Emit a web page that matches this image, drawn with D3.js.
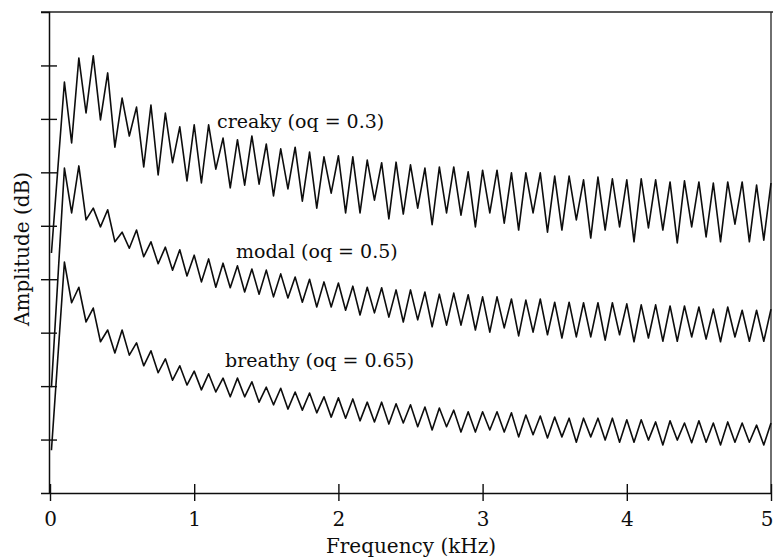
<!DOCTYPE html>
<html><head><meta charset="utf-8">
<script src="https://cdn.jsdelivr.net/npm/d3@7"></script>
<style>html,body{margin:0;padding:0;background:#fff;} svg{display:block;}</style>
</head><body><div id="chart"></div>
<script>
// Harmonic frequencies (kHz) – peaks, and the troughs midway between them
const harmonicKHz = [0.1,0.2,0.3,0.4,0.5,0.6,0.7,0.8,0.9,1.0,1.1,1.2,1.3,1.4,1.5,1.6,1.7,1.8,1.9,2.0,
  2.1,2.2,2.3,2.4,2.5,2.6,2.7,2.8,2.9,3.0,3.1,3.2,3.3,3.4,3.5,3.6,3.7,3.8,3.9,4.0,
  4.1,4.2,4.3,4.4,4.5,4.6,4.7,4.8,4.9,5.0];
const troughKHz = [0.15,0.25,0.35,0.45,0.55,0.65,0.75,0.85,0.95,1.05,1.15,1.25,1.35,1.45,1.55,1.65,1.75,1.85,1.95,2.05,
  2.15,2.25,2.35,2.45,2.55,2.65,2.75,2.85,2.95,3.05,3.15,3.25,3.35,3.45,3.55,3.65,3.75,3.85,3.95,4.05,
  4.15,4.25,4.35,4.45,4.55,4.65,4.75,4.85,4.95];
const startKHz = 0.01;

// Amplitudes (dB)
const creakyStart = 44.9;
const creakyPeaks = [76.9,81.4,81.8,78.6,73.9,72.2,72.6,71.1,68.5,68.9,68.9,66.4,66.1,66.8,65.3,64.4,64.7,63.8,62.9,63.1,
  62.9,62.3,61.8,61.9,61.4,60.8,61.0,61.0,60.1,60.4,60.4,59.9,59.9,59.9,59.3,59.3,58.6,59.1,58.8,58.6,
  58.8,58.6,58.2,58.4,58.2,58.0,58.2,58.2,57.6,58.0];
const creakyTroughs = [65.5,71.1,69.8,64.7,66.8,61.0,59.5,61.8,58.4,58.0,60.6,57.1,57.6,57.8,55.6,56.9,54.6,53.3,56.1,52.4,
  52.4,54.8,51.3,52.2,53.3,50.2,52.4,52.0,49.8,52.4,50.5,49.2,52.4,48.8,49.2,51.1,47.7,49.2,49.8,47.0,
  49.6,49.2,46.8,49.8,47.9,47.0,50.3,47.0,47.3];

const modalStart = 19.8;
const modalPeaks = [60.8,61.2,53.3,53.0,48.8,49.2,47.0,46.0,45.5,44.5,43.8,43.0,42.5,41.9,41.7,41.0,40.4,40.0,39.5,39.3,
  38.7,38.5,38.4,38.0,38.0,37.6,37.2,37.4,37.1,36.7,36.7,36.3,36.1,36.3,35.7,35.7,35.6,35.6,35.6,35.4,
  35.2,35.2,35.0,35.0,34.8,34.4,34.8,34.2,34.2,34.4];
const modalTroughs = [52.4,51.1,49.8,47.0,45.8,44.2,42.9,41.7,40.6,39.5,38.5,38.4,37.6,37.2,36.7,36.5,35.7,34.8,34.8,34.2,
  33.3,33.7,32.9,32.0,32.4,31.1,31.4,31.4,30.5,30.1,30.9,29.4,30.1,29.6,29.0,29.2,29.2,28.6,29.6,28.3,
  29.0,28.4,28.4,29.2,28.8,28.3,29.2,28.4,28.4];

const breathyStart = 8.0;
const breathyPeaks = [43.2,38.5,34.6,30.5,30.5,28.1,26.6,25.1,23.8,22.8,22.3,21.5,21.5,20.8,19.8,19.6,18.9,18.7,18.0,17.8,
  17.6,17.0,17.0,16.7,16.5,16.1,15.9,15.5,15.2,15.2,15.2,15.0,14.6,14.4,14.2,14.0,14.0,14.0,14.0,13.7,
  13.7,13.3,13.5,13.1,13.5,13.1,13.3,13.1,12.7,13.1];
const breathyTroughs = [35.6,32.0,28.3,26.2,25.8,23.8,22.5,21.1,20.2,19.3,18.9,18.0,18.0,17.0,16.5,15.7,15.5,15.0,14.2,14.0,
  13.5,13.3,12.9,13.1,12.4,11.8,12.4,11.4,11.4,11.8,11.4,10.5,10.9,10.3,10.5,9.5,10.5,9.9,9.5,9.5,
  9.9,9.0,9.9,9.4,9.5,9.0,9.5,9.5,9.0];

const seriesLabels = ["creaky (oq = 0.3)", "modal (oq = 0.5)", "breathy (oq = 0.65)"];
const xTickValues = [0, 1, 2, 3, 4, 5];
const yTickValues = [10, 20, 30, 40, 50, 60, 70, 80];
const xTitle = "Frequency (kHz)";
const yTitle = "Amplitude (dB)";

function buildSeries(start, peaks, troughs) {
  const pts = [{f: startKHz, a: start}];
  harmonicKHz.forEach((f, i) => {
    pts.push({f: f, a: peaks[i]});
    if (i < troughKHz.length) pts.push({f: troughKHz[i], a: troughs[i]});
  });
  return pts;
}
const series = [
  {label: seriesLabels[0], pts: buildSeries(creakyStart, creakyPeaks, creakyTroughs), lx: 217, ly: 128},
  {label: seriesLabels[1], pts: buildSeries(modalStart, modalPeaks, modalTroughs), lx: 236, ly: 258},
  {label: seriesLabels[2], pts: buildSeries(breathyStart, breathyPeaks, breathyTroughs), lx: 225, ly: 367}
];

const W = 773, H = 560;
const svg = d3.select("#chart").append("svg").attr("width", W).attr("height", H);
const FONT = "'DejaVu Serif', 'Liberation Serif', serif";
const INK = "#0d0d0d";

const x = d3.scaleLinear().domain([0, 5]).range([50, 771]);
const y = d3.scaleLinear().domain([0, 90]).range([493, 12]);

// frame top and right
svg.append("line").attr("x1", 41).attr("x2", 773).attr("y1", y(90)).attr("y2", y(90))
  .attr("stroke", "#222").attr("stroke-width", 1.3);
svg.append("line").attr("x1", x(5)).attr("x2", x(5)).attr("y1", y(90)).attr("y2", y(0))
  .attr("stroke", "#222").attr("stroke-width", 1.3);

// y axis
const gy = svg.append("g").attr("transform", `translate(49,0)`)
  .call(d3.axisLeft(y).tickValues(yTickValues).tickFormat("").tickSizeOuter(0).tickSize(8));
gy.select(".domain").attr("stroke", INK).attr("stroke-width", 1.5);
gy.selectAll(".tick line").attr("x1", -8).attr("x2", 8).attr("stroke", INK).attr("stroke-width", 1.4);

// x axis
const gx = svg.append("g").attr("transform", `translate(0,${y(0)})`)
  .call(d3.axisBottom(x).tickValues(xTickValues).tickFormat(d3.format("d")).tickSizeOuter(0));
gx.select(".domain").attr("stroke", INK).attr("stroke-width", 1.5);
gx.selectAll(".tick line").attr("y1", -9).attr("y2", 8).attr("stroke", INK).attr("stroke-width", 1.4);
gx.selectAll(".tick text").attr("y", 33).attr("dy", null)
  .attr("font-family", FONT).attr("font-size", 20).attr("fill", INK)
  .attr("text-anchor", d => d === 5 ? "end" : "middle")
  .attr("dx", d => d === 5 ? 2 : 0);

// titles
svg.append("text").attr("x", 411).attr("y", 553).attr("text-anchor", "middle")
  .attr("font-family", FONT).attr("font-size", 20).attr("fill", INK).text(xTitle);
svg.append("text").attr("transform", "translate(29,249) rotate(-90)").attr("text-anchor", "middle")
  .attr("font-family", FONT).attr("font-size", 20).attr("fill", INK).text(yTitle);

// spectra
const line = d3.line().x(d => x(d.f)).y(d => y(d.a)).curve(d3.curveLinear);
svg.selectAll("path.spec").data(series).join("path").attr("class", "spec")
  .attr("d", d => line(d.pts)).attr("fill", "none").attr("stroke", INK)
  .attr("stroke-width", 1.6).attr("stroke-linejoin", "round");

svg.selectAll("text.lab").data(series).join("text").attr("class", "lab")
  .attr("x", d => d.lx).attr("y", d => d.ly)
  .attr("font-family", FONT).attr("font-size", 19).attr("fill", INK).text(d => d.label);
</script></body></html>
